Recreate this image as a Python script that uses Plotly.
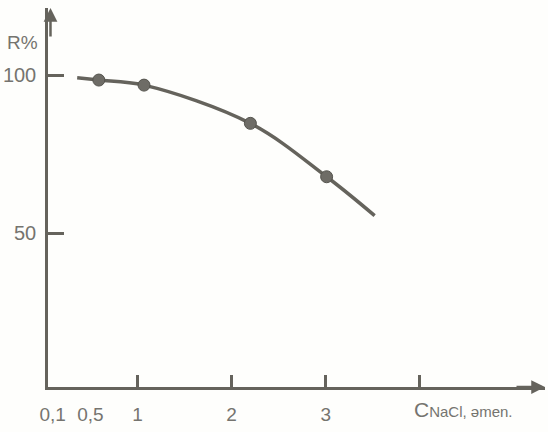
import plotly.graph_objects as go

# Measured points: rejection R (%) vs NaCl concentration
conc = [0.59, 1.07, 2.2, 3.01]
rejection = [98.4, 96.8, 84.7, 67.8]

# Trend curve drawn through the measurements and extended at both ends
curve_x = [0.36, 0.59, 1.07, 2.2, 3.01, 3.52]
curve_y = [99.1, 98.4, 96.8, 84.7, 67.8, 55.5]

x_tickvals = [1, 2, 3, 4]
x_ticktext = ["1", "2", "3", ""]
x_minor_vals = [0.1, 0.5]
x_minor_text = ["0,1", "0,5"]
y_tickvals = [50, 100]
y_ticktext = ["50", "100"]

ink = "#65635c"
text_col = "#75746f"
font_family = "Liberation Sans, Arial, sans-serif"

fig = go.Figure()
fig.add_trace(go.Scatter(
    x=curve_x, y=curve_y, mode="lines",
    line=dict(color=ink, width=3.5, shape="spline", smoothing=1.0),
    hoverinfo="skip", showlegend=False,
))
fig.add_trace(go.Scatter(
    x=conc, y=rejection, mode="markers",
    marker=dict(size=12, color="#6e6c66", line=dict(color="#55544e", width=1)),
    showlegend=False,
))
# carrier trace for the secondary x axis labels
fig.add_trace(go.Scatter(
    x=x_minor_vals, y=[None, None], xaxis="x2", mode="markers",
    showlegend=False, hoverinfo="skip",
))

x_range = [0.05, 5.33]
x_font = dict(family=font_family, size=19, color=text_col)
y_font = dict(family=font_family, size=20, color=text_col)
fig.update_layout(
    width=548, height=432,
    margin=dict(l=48, r=3, t=8, b=45),
    paper_bgcolor="#fefefc", plot_bgcolor="#fefefc",
    font=dict(family=font_family, size=19, color=text_col),
    xaxis=dict(
        range=x_range, showgrid=False, zeroline=False,
        showline=True, linecolor=ink, linewidth=2.5,
        tickvals=x_tickvals, ticktext=x_ticktext, tickfont=x_font,
        ticks="inside", ticklen=12, tickwidth=3, tickcolor=ink,
        ticklabelstandoff=8,
    ),
    xaxis2=dict(
        range=x_range, overlaying="x", matches="x", side="bottom",
        showgrid=False, zeroline=False, showline=False,
        tickvals=x_minor_vals, ticktext=x_minor_text, ticks="", tickfont=x_font,
        ticklabelstandoff=14,
    ),
    yaxis=dict(
        range=[1.27, 121.2], showgrid=False, zeroline=False,
        showline=True, linecolor=ink, linewidth=2.5,
        tickvals=y_tickvals, ticktext=y_ticktext, tickfont=y_font,
        ticks="inside", ticklen=16, tickwidth=3, tickcolor=ink,
        ticklabelstandoff=5,
    ),
    annotations=[
        dict(x=-0.052, y=0.91, xref="paper", yref="paper", xanchor="center",
             yanchor="middle", text="R%", showarrow=False,
             font=dict(size=19, color=text_col)),
        dict(x=3.92, y=-0.06, xref="x", yref="paper", xanchor="left", yanchor="middle",
             text="C<span style='font-size:15px'>NaCl, əmen.</span>", showarrow=False,
             font=dict(size=21, color=text_col)),
        # axis arrowheads
        dict(x=1, y=0, xref="paper", yref="paper", ax=-30, ay=0, text="",
             showarrow=True, arrowhead=2, arrowsize=1.1, arrowwidth=2.5, arrowcolor=ink),
        dict(x=0.005, y=1, xref="paper", yref="paper", ax=0, ay=30, text="",
             showarrow=True, arrowhead=2, arrowsize=1.1, arrowwidth=2.5, arrowcolor=ink),
    ],
)

fig.write_html("out.html")
